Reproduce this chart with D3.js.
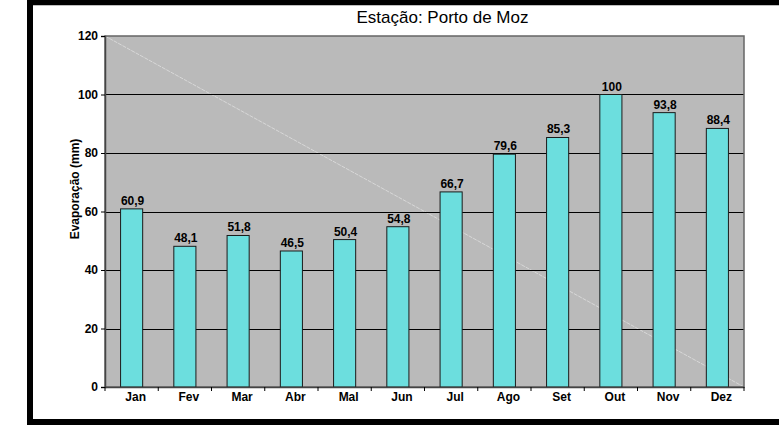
<!DOCTYPE html>
<html><head><meta charset="utf-8">
<script src="https://cdn.jsdelivr.net/npm/d3@7"></script>
<style>body{margin:0;background:#fff}svg{display:block}text{font-family:"Liberation Sans",Arial,sans-serif}</style>
</head><body>
<script>
const months = ["Jan","Fev","Mar","Abr","Mal","Jun","Jul","Ago","Set","Out","Nov","Dez"];
const values = [60.9,48.1,51.8,46.5,50.4,54.8,66.7,79.6,85.3,100,93.8,88.4];
const labels = ["60,9","48,1","51,8","46,5","50,4","54,8","66,7","79,6","85,3","100","93,8","88,4"];
const yTicks = [0,20,40,60,80,100,120];
const title = "Estação: Porto de Moz";
const yTitle = "Evaporação (mm)";

const W = 779, H = 427;
const m = {left:105, right:744, top:36, bottom:387};
const svg = d3.select("body").append("svg").attr("width",W).attr("height",H);

// frame
svg.append("rect").attr("x",30).attr("y",2.5).attr("width",W).attr("height",422-2.5)
  .attr("fill","none").attr("stroke","#000").attr("stroke-width",6);
svg.append("rect").attr("x",33).attr("y",5.5).attr("width",W).attr("height",418-5.5).attr("fill","#fff");

const x = d3.scaleBand().domain(months).range([m.left,m.right]).paddingInner(0.585).paddingOuter(0.2925);
const y = d3.scaleLinear().domain([0,120]).range([m.bottom,m.top]);

// plot bg
svg.append("rect").attr("x",m.left).attr("y",m.top).attr("width",m.right-m.left).attr("height",m.bottom-m.top)
  .attr("fill","#bababa");
// diagonal
svg.append("line").attr("x1",m.left).attr("y1",m.top).attr("x2",m.right).attr("y2",m.bottom)
  .attr("stroke","#d8d8d8").attr("stroke-width",1).attr("stroke-dasharray","4,1");
// grid
svg.append("g").selectAll("line").data(yTicks.filter(d=>d>0&&d<120)).join("line")
  .attr("x1",m.left).attr("x2",m.right).attr("y1",d=>Math.round(y(d))+0.5).attr("y2",d=>Math.round(y(d))+0.5)
  .attr("stroke","#000").attr("stroke-width",1);
// border
svg.append("rect").attr("x",m.left).attr("y",m.top).attr("width",m.right-m.left).attr("height",m.bottom-m.top)
  .attr("fill","none").attr("stroke","#666").attr("stroke-width",1.5);

// bars
svg.append("g").selectAll("rect").data(values).join("rect")
  .attr("x",(d,i)=>x(months[i])).attr("width",x.bandwidth())
  .attr("y",d=>y(d)).attr("height",d=>y(0)-y(d))
  .attr("fill","#6cdede").attr("stroke","#1a1a1a").attr("stroke-width",1);
// value labels
svg.append("g").selectAll("text").data(values).join("text")
  .attr("x",(d,i)=>x(months[i])+x.bandwidth()/2+1).attr("y",d=>y(d)-4)
  .attr("text-anchor","middle").attr("font-size",12).attr("font-weight","bold").attr("fill","#000")
  .text((d,i)=>labels[i]);

// y axis
const ya = svg.append("g").attr("transform",`translate(${m.left},0)`)
  .call(d3.axisLeft(y).tickValues(yTicks).tickSize(4).tickPadding(3).tickFormat(d3.format("d")));
ya.select(".domain").attr("stroke","#444").attr("stroke-width",1.5);
ya.selectAll(".tick line").attr("stroke","#000");
ya.selectAll("text").attr("font-size",12).attr("font-weight","bold").attr("fill","#000")
  .style("font-family","'Liberation Sans',Arial,sans-serif");

// x axis
const xa = svg.append("g").attr("transform",`translate(0,${m.bottom})`)
  .call(d3.axisBottom(x).tickSize(0).tickPadding(5));
xa.select(".domain").attr("stroke","#444").attr("stroke-width",1.5);
xa.selectAll("text").attr("font-size",12).attr("font-weight","bold").attr("fill","#000").attr("dx",4)
  .style("font-family","'Liberation Sans',Arial,sans-serif");
// x separators ticks
const step = x.step();
svg.append("g").selectAll("line").data(d3.range(months.length+1)).join("line")
  .attr("x1",i=>m.left+i*step).attr("x2",i=>m.left+i*step)
  .attr("y1",m.bottom).attr("y2",m.bottom+4).attr("stroke","#000");

// titles
svg.append("text").attr("x",442.5).attr("y",23).attr("text-anchor","middle")
  .attr("font-size",17).attr("fill","#000").text(title);
svg.append("text").attr("transform",`translate(79,189) rotate(-90)`)
  .attr("text-anchor","middle").attr("font-size",12).attr("font-weight","bold").attr("fill","#000").text(yTitle);
</script>
</body></html>
